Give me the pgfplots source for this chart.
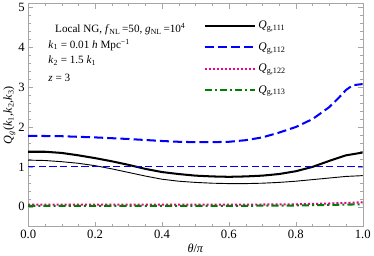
\documentclass[border=0pt]{standalone}
\usepackage{fontspec}
\setmainfont{Liberation Serif}
\usepackage{pgfplots}
\pgfplotsset{compat=1.18}
\definecolor{dgreen}{rgb}{0,0.5,0}
\newcommand{\Qleg}[1]{\textit{Q}\textsubscript{g,#1}}
\begin{document}
\begin{tikzpicture}
\begin{axis}[
  width=330pt, height=220pt, scale only axis,
  xmin=0, xmax=1, ymin=-0.5, ymax=5.1,
  xtick={0,0.2,...,1.0}, ytick={0,1,2,3,4,5},
  minor x tick num=3, minor y tick num=4,
  xticklabel style={/pgf/number format/fixed, /pgf/number format/fixed zerofill, /pgf/number format/precision=1},
  /pgf/number format/assume math mode=true,
  tick label style={font=\fontsize{12.5}{14}\selectfont},
  tick align=inside,
  major tick length=5pt, minor tick length=2.5pt,
  axis line style={gray!70}, tick style={gray!70},
  xlabel={\textit{θ}/\textit{π}},
  ylabel={\textit{Q}\textsubscript{\textit{g}}(\textit{k}\textsubscript{1},\textit{k}\textsubscript{2},\textit{k}\textsubscript{3})},
  label style={font=\fontsize{12}{14}\selectfont},
  xlabel style={yshift=2pt},
  ylabel style={yshift=-4pt},
  legend style={draw=none, fill=none, at={(rel axis cs:0.515,0.94)}, anchor=north west,
    font=\fontsize{11.5}{13}\selectfont, row sep=8pt},
  legend cell align=left,
  legend image code/.code={\draw[#1] plot coordinates {(0pt,0pt) (50pt,0pt)};},
]
\addplot[black, line width=2pt] coordinates {
(0,1.38) (0.05,1.38) (0.1,1.35) (0.15,1.29) (0.2,1.22) (0.25,1.14) (0.3,1.05) (0.35,0.95)
(0.4,0.87) (0.45,0.82) (0.5,0.78) (0.55,0.76) (0.6,0.75) (0.65,0.76) (0.7,0.78) (0.75,0.82)
(0.8,0.89) (0.85,1.00) (0.9,1.15) (0.95,1.29) (1.0,1.36)};
\addlegendentry{\Qleg{111}}
\addplot[blue, line width=2pt, dash pattern=on 9pt off 4pt] coordinates {
(0,1.78) (0.1,1.77) (0.2,1.74) (0.3,1.70) (0.4,1.65) (0.45,1.63) (0.5,1.62) (0.55,1.62)
(0.6,1.63) (0.65,1.67) (0.7,1.74) (0.75,1.86) (0.8,2.0) (0.85,2.2) (0.9,2.5) (0.93,2.75)
(0.95,2.93) (0.97,3.05) (1.0,3.08)};
\addlegendentry{\Qleg{112}}
\addplot[magenta, line width=2pt, dash pattern=on 2pt off 2pt] coordinates {
(0,0.05) (0.2,0.05) (0.4,0.05) (0.6,0.05) (0.8,0.06) (0.9,0.08) (1.0,0.11)};
\addlegendentry{\Qleg{122}}
\addplot[dgreen, line width=2pt, dash pattern=on 7pt off 3pt on 2pt off 3pt] coordinates {
(0,0.02) (0.2,0.02) (0.4,0.02) (0.6,0.02) (0.8,0.03) (0.9,0.045) (1.0,0.06)};
\addlegendentry{\Qleg{113}}
\addplot[black, line width=0.9pt, forget plot] coordinates {
(0,1.17) (0.05,1.16) (0.1,1.13) (0.15,1.09) (0.2,1.03) (0.25,0.95) (0.3,0.86) (0.35,0.77)
(0.4,0.69) (0.45,0.64) (0.5,0.61) (0.55,0.59) (0.6,0.58) (0.65,0.58) (0.7,0.59) (0.75,0.61)
(0.8,0.64) (0.85,0.68) (0.9,0.72) (0.95,0.76) (1.0,0.78)};
\addplot[blue, line width=0.9pt, dash pattern=on 7pt off 3.5pt, forget plot] coordinates {
(0,1) (1,1)};
\node[anchor=west, font=\fontsize{11}{13}\selectfont] at (rel axis cs:0.07,0.885)
  {Local NG, \textit{f}\textsubscript{NL}\,=50, \textit{g}\textsubscript{NL}\,=10\textsuperscript{4}};
\node[anchor=west, font=\fontsize{11}{13}\selectfont] at (rel axis cs:0.05,0.815)
  {\textit{k}\textsubscript{1} = 0.01 \textit{h} Mpc\textsuperscript{−1}};
\node[anchor=west, font=\fontsize{11}{13}\selectfont] at (rel axis cs:0.05,0.745)
  {\textit{k}\textsubscript{2} = 1.5 \textit{k}\textsubscript{1}};
\node[anchor=west, font=\fontsize{11}{13}\selectfont] at (rel axis cs:0.05,0.665)
  {\textit{z} = 3};
\end{axis}
\end{tikzpicture}
\end{document}
